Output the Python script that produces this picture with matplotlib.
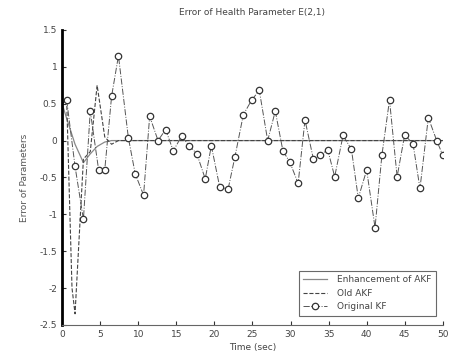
import matplotlib.pyplot as plt

# sample times (sec) and error of the health parameter for each filter
kf_t = [0.6, 1.7, 2.8, 3.7, 4.8, 5.6, 6.5, 7.4, 8.7, 9.6,
        10.7, 11.5, 12.6, 13.6, 14.6, 15.7, 16.7, 17.7, 18.8, 19.6,
        20.7, 21.8, 22.7, 23.8, 24.9, 25.9, 27.0, 28.0, 29.0, 29.9,
        31.0, 31.9, 33.0, 33.9, 34.9, 35.8, 36.9, 38.0, 38.9, 40.0,
        41.1, 42.0, 43.0, 44.0, 45.0, 46.1, 47.0, 48.1, 49.2, 50.0]
kf_err = [0.55, -0.35, -1.07, 0.40, -0.40, -0.40, 0.60, 1.15, 0.04, -0.45,
          -0.74, 0.33, 0.00, 0.15, -0.14, 0.06, -0.07, -0.18, -0.52, -0.07,
          -0.63, -0.66, -0.22, 0.35, 0.55, 0.68, 0.00, 0.40, -0.14, -0.29,
          -0.58, 0.28, -0.25, -0.19, -0.13, -0.49, 0.07, -0.12, -0.78, -0.40,
          -1.18, -0.20, 0.55, -0.49, 0.08, -0.05, -0.65, 0.31, 0.00, -0.20]

old_t = [0.0, 0.6, 1.3, 1.7, 2.3, 2.8, 3.7, 4.6, 5.6, 6.5, 7.4, 8.7, 50.0]
old_err = [0.5, 0.55, -2.0, -2.35, -1.2, -0.25, -0.15, 0.75, 0.05, -0.05, 0.0, 0.0, 0.0]

enh_t = [0.0, 0.6, 1.7, 2.8, 3.7, 4.6, 5.6, 6.5, 50.0]
enh_err = [0.5, 0.3, -0.05, -0.3, -0.18, -0.08, -0.02, 0.0, 0.0]

fig = plt.figure(figsize=(4.5, 3.57), dpi=100)
ax = fig.add_axes([0.138, 0.09, 0.846, 0.826])

ax.plot(enh_t, enh_err, '-', color='#888888', lw=0.9, label='Enhancement of AKF')
ax.plot(old_t, old_err, '--', color='#444444', lw=0.8, label='Old AKF')
ax.plot(kf_t, kf_err, '-.', color='#555555', lw=0.7, marker='o', ms=4.6,
        mfc='white', mec='#333333', mew=0.9, label='Original KF')

ax.set_xlim(0, 50)
ax.set_ylim(-2.5, 1.5)
ax.set_xticks(range(0, 51, 5))
ax.set_yticks([-2.5, -2, -1.5, -1, -0.5, 0, 0.5, 1, 1.5])
ax.set_yticklabels(['-2.5', '-2', '-1.5', '-1', '-0.5', '0', '0.5', '1', '1.5'])
ax.tick_params(direction='in', labelsize=6.5, labelcolor='#444444',
               length=3, color='#333333')

for s in ['top', 'right']:
    ax.spines[s].set_visible(False)
ax.spines['left'].set_linewidth(2.0)
ax.spines['bottom'].set_color('#666666')
ax.spines['bottom'].set_linewidth(0.8)

ax.set_title('Error of Health Parameter E(2,1)', fontsize=6.5, color='#444444', pad=11)
ax.set_xlabel('Time (sec)', fontsize=6.5, color='#444444', labelpad=3)
ax.set_ylabel('Error of Parameters', fontsize=6.5, color='#555555', labelpad=8)

leg = ax.legend(loc='lower right', bbox_to_anchor=(0.995, 0.015), fontsize=6.5,
                frameon=True, fancybox=False, handlelength=2.6, borderpad=0.5,
                labelspacing=0.5, handletextpad=1.2)
leg.get_frame().set_edgecolor('#444444')
leg.get_frame().set_linewidth(0.8)
for t in leg.get_texts():
    t.set_color('#444444')

fig.savefig('out.png', dpi=100)
